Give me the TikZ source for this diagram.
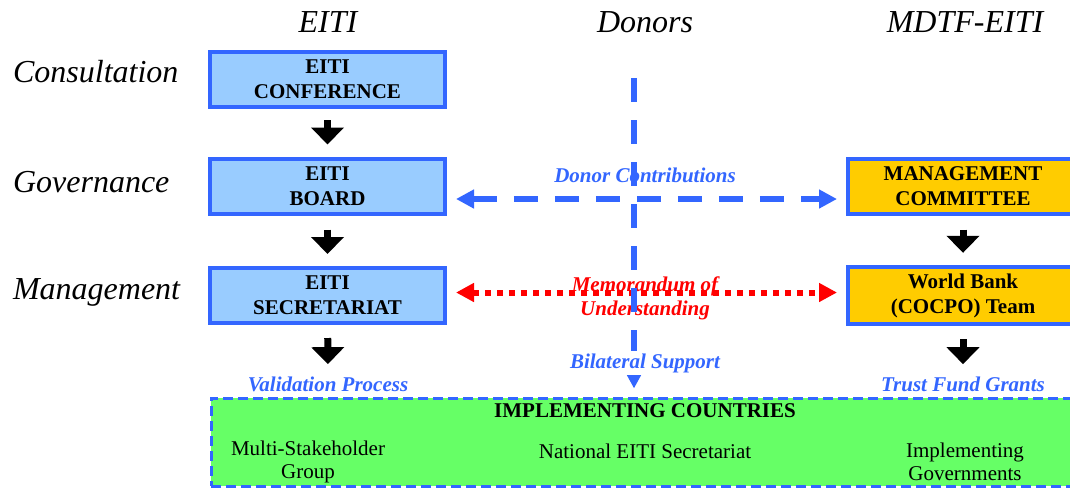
\documentclass[tikz,border=0pt]{standalone}
\usepackage{fontspec}
\setmainfont{Liberation Serif}
\usetikzlibrary{arrows.meta}
\definecolor{eitiblue}{HTML}{3366FF}
\definecolor{boxblue}{HTML}{99CCFF}
\definecolor{boxgold}{HTML}{FFCC00}
\definecolor{boxgreen}{HTML}{66FF66}
\definecolor{memored}{HTML}{FF0000}

\begin{document}
\begin{tikzpicture}[x=0.5pt,y=-0.5pt,
		heading/.style={font=\fontsize{16}{19}\selectfont\itshape},
		orgbox/.style={draw=eitiblue,line width=2pt,minimum height=27.5pt,align=center,
			font=\fontsize{10.5}{12.5}\selectfont\bfseries},
		eitibox/.style={orgbox,fill=boxblue,minimum width=117.5pt},
		mdtfbox/.style={orgbox,fill=boxgold,minimum width=115pt},
		flowtext/.style={text=eitiblue,font=\fontsize{10.5}{12.5}\selectfont\bfseries\itshape,inner sep=0pt},
		plaintext/.style={align=center,font=\fontsize{10.5}{11.5}\selectfont},
		downarrow/.style={line width=3.5pt,-{Triangle[width=16pt,length=8.5pt]}},
		donorline/.style={draw=eitiblue,line width=2.8pt,dash pattern=on 12pt off 8.5pt,
			{Triangle[width=9pt,length=9pt]}-{Triangle[width=9pt,length=9pt]},shorten <=4.5pt,shorten >=4.5pt}]
		\useasboundingbox (0,0) rectangle (1070,488);
		% EITI / MDTF-EITI structure
		\node[heading] (hdEITI) at (328,22) {EITI};
		\node[heading] (hdDonors) at (645,22) {Donors};
		\node[heading] (hdMDTF) at (965,22) {MDTF-EITI};
		\node[heading,anchor=west] (rowCons) at (6,72) {Consultation};
		\node[heading,anchor=west] (rowGov) at (6,182) {Governance};
		\node[heading,anchor=west] (rowMgmt) at (6,292) {Management};
		
		\node[eitibox] (conf) at (327.5,79.5) {EITI\\CONFERENCE};
		\node[eitibox] (board) at (327.5,186) {EITI\\BOARD};
		\node[eitibox] (secr) at (327.5,295.5) {EITI\\SECRETARIAT};
		\node[mdtfbox] (mgmt) at (963,186) {MANAGEMENT\\COMMITTEE};
		\node[mdtfbox] (wbteam) at (963,295.5) {World Bank\\(COCPO) Team};
		
		\node[draw=eitiblue,line width=1.5pt,dash pattern=on 5pt off 2.5pt,fill=boxgreen,
			minimum width=433.5pt,minimum height=44pt] (impl) at (644.5,442) {};
		\node[font=\fontsize{10.5}{12.5}\selectfont\bfseries] (implTitle) at (645,411) {IMPLEMENTING COUNTRIES};
		\node[plaintext] (msg) at (308,462) {Multi-Stakeholder\\Group};
		\node[plaintext] (natsec) at (645,451) {National EITI Secretariat};
		\node[plaintext] (govts) at (965,462) {Implementing\\Governments};
		
		\node[flowtext] (valid) at (328,384) {Validation Process};
		\node[flowtext] (trust) at (963,384) {Trust Fund Grants};
		\node[flowtext] (donc) at (645,175) {Donor Contributions};
		
		\draw[downarrow,shorten <=5.5pt,shorten >=6pt] (conf) to (board);
		\draw[downarrow,shorten <=7pt,shorten >=6pt] (board) to (secr);
		\draw[downarrow,shorten <=6.5pt,shorten >=6pt] (secr) to (valid);
		\draw[downarrow,shorten <=7pt,shorten >=6pt] (mgmt) to (wbteam);
		\draw[downarrow,shorten <=6.5pt,shorten >=6pt] (wbteam) to (trust);
		
		\draw[donorline] ([yshift=-6.5pt]board.east) to ([yshift=-6.5pt]mgmt.west);
		\draw[draw=memored,line width=3pt,dash pattern=on 3pt off 3pt,
			{Triangle[width=9pt,length=9pt]}-{Triangle[width=9pt,length=9pt]},
			shorten <=4.5pt,shorten >=4.5pt] ([yshift=1.5pt]secr.east) to ([yshift=1.5pt]wbteam.west);
		\node[text=memored,font=\fontsize{10.5}{12}\selectfont\bfseries\itshape,align=center,inner sep=0pt]
			(memo) at (645,298) {Memorandum of\\Understanding};
		
		\coordinate (donTop) at (634,78);
		\draw[draw=eitiblue,line width=2.8pt,dash pattern=on 12pt off 9pt,
			-{Triangle[width=9pt,length=9pt]},shorten >=4pt] (donTop) to (donTop |- impl.north);
		\node[flowtext,fill=white,inner sep=1pt] (bilat) at (645,363) {Bilateral Support};
		
		\end{tikzpicture}
\end{document}
